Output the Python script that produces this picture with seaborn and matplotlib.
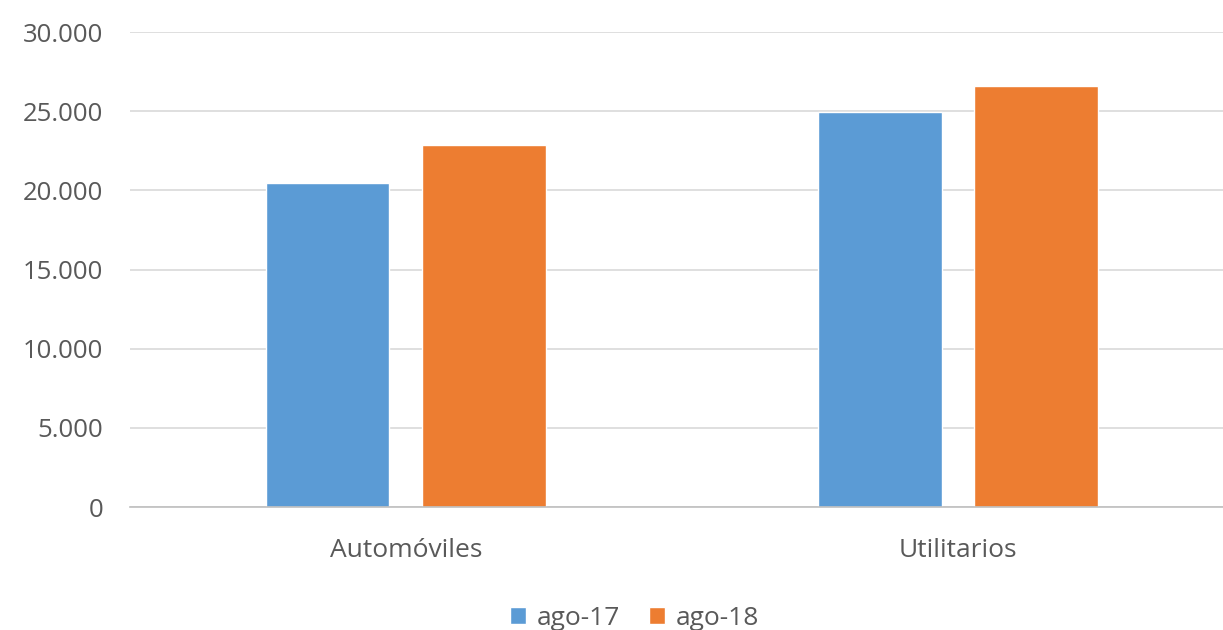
import pandas as pd
import matplotlib.pyplot as plt
import matplotlib.ticker as mticker
import seaborn as sns

categories = ["Automóviles", "Utilitarios"]
ago17 = [20450, 24950]
ago18 = [22850, 26600]
series = ["ago-17", "ago-18"]
colors = ["#5B9BD5", "#ED7D31"]

df = pd.DataFrame({
    "Categoria": categories * 2,
    "Valor": ago17 + ago18,
    "Serie": [series[0]] * 2 + [series[1]] * 2,
})

sns.set_style("white")
plt.rcParams['font.family'] = ['Open Sans', 'DejaVu Sans']

fig = plt.figure(figsize=(12.23, 6.3), dpi=100)
ax = fig.add_axes([0.106, 0.195, 0.894, 0.754])

sns.barplot(data=df, x="Categoria", y="Valor", hue="Serie", palette=colors,
            width=0.567, gap=0.21, ax=ax, saturation=1)

ax.set_ylim(0, 30000)
ax.set_xlim(-0.5, 1.48)
ax.yaxis.set_major_locator(mticker.MultipleLocator(5000))
ax.yaxis.set_major_formatter(mticker.FuncFormatter(lambda v, p: f"{int(v):,}".replace(",", ".")))
ax.grid(axis='y', color='#D9D9D9', linewidth=1.2)
ax.set_axisbelow(True)
for s in ['top', 'right', 'left']:
    ax.spines[s].set_visible(False)
ax.spines['bottom'].set_color('#BFBFBF')
ax.spines['bottom'].set_linewidth(1.2)
ax.tick_params(axis='y', length=0, labelsize=18.5, colors='#595959', pad=19)
ax.tick_params(axis='x', length=0, labelsize=19, colors='#595959', pad=22)
ax.set_xlabel("")
ax.set_ylabel("")

ax.legend(loc='center', bbox_to_anchor=(0.462, -0.234), ncol=2, frameon=False,
          fontsize=19, handlelength=0.6, handleheight=0.6, handletextpad=0.4,
          columnspacing=1.1, labelcolor='#595959', borderpad=0.1)

fig.savefig("out.png", dpi=100)
